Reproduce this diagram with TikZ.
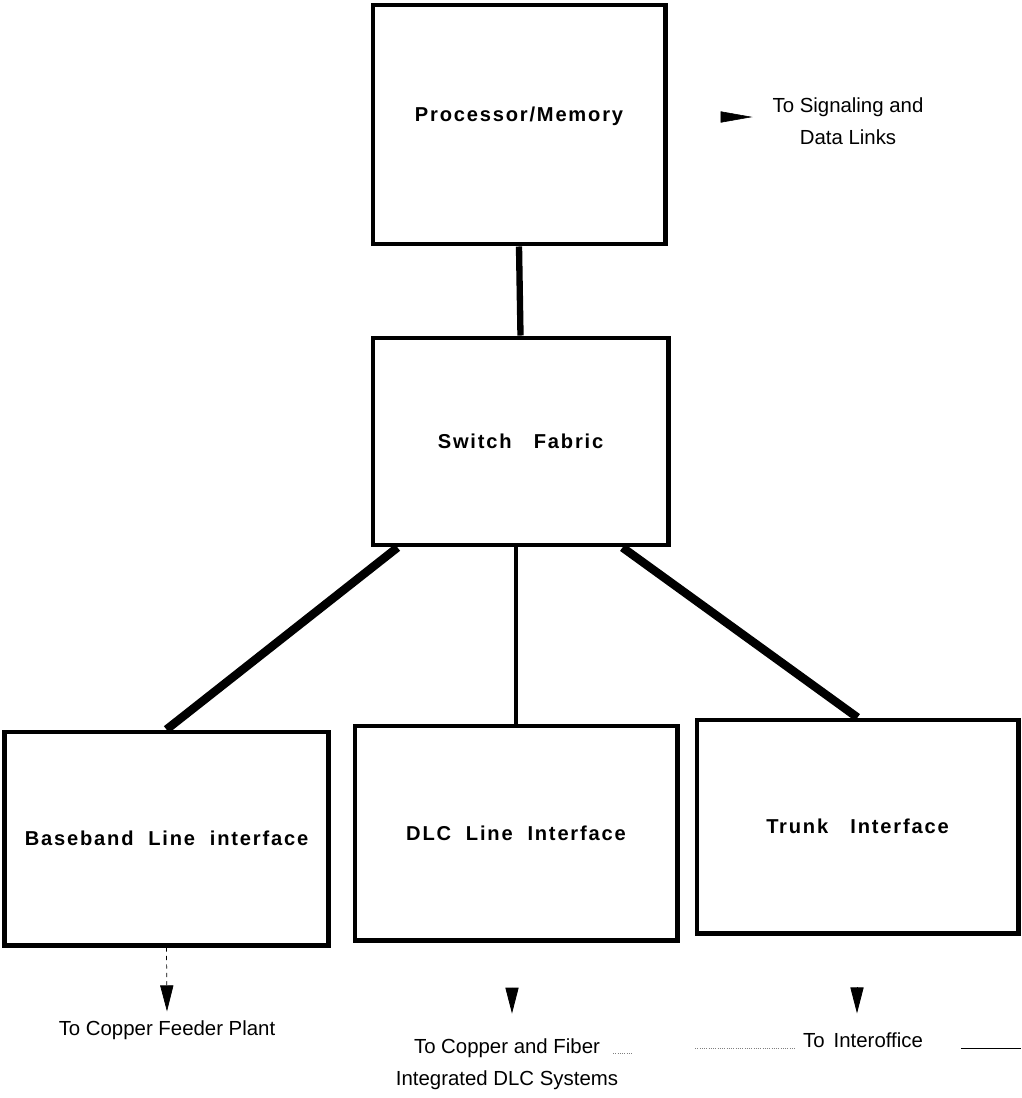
\documentclass[tikz,border=0pt]{standalone}
\usepackage{fontspec}
\setmainfont{Liberation Sans}
\newfontfamily\blockfont{Liberation Sans}[LetterSpace=9]
\usepackage{tikz}
\usetikzlibrary{arrows.meta,calc}

\begin{document}
\begin{tikzpicture}[
    x=0.025cm, y=-0.025cm,
    every node/.style={font=\fontsize{14.5}{22.5}\selectfont},
    block/.style={draw, line width=3.5pt, rectangle, align=center, font=\blockfont\bfseries\fontsize{14.3}{17}\selectfont},
    note/.style={align=center, inner sep=2pt},
    link/.style={line width=6pt},
    tip/.style={-{Triangle[length=0.65cm, width=0.33cm]}, line width=0.6pt}
]
\useasboundingbox (0,0) rectangle (1021,1098);

% Blocks
\node (proc) [block, minimum width=7.3cm, minimum height=5.975cm] at (519,124.5) {\raisebox{0.5cm}{Processor/Memory}};
\node (switch) [block, minimum width=7.375cm, minimum height=5.175cm] at (520.5,441.5) {\raisebox{-0.3cm}{Switch\ \ \ Fabric}};
\node (baseband) [block, minimum width=8.075cm, minimum height=5.325cm] at (166.5,838.5) {\raisebox{-0.25cm}{Baseband\ \ Line\ \ interface}};
\node (dlc) [block, minimum width=8.05cm, minimum height=5.35cm] at (516,833) {\raisebox{-0.1cm}{DLC\ \ Line\ \ Interface}};
\node (trunk) [block, minimum width=8.025cm, minimum height=5.325cm] at (857.5,826.5) {\raisebox{-0.2cm}{Trunk\ \ \ Interface}};

% External notes
\node (signal) [note] at (848,121) {To Signaling and\\Data Links};
\node (feeder) [note] at (167,1030) {To Copper Feeder Plant};
\node (fiber) [note] at (507,1064) {To Copper and Fiber\\Integrated DLC Systems};
\node (office) [note] at (863,1040) {To\ \,Interoffice};

% Connections
\draw [link, line width=4.5pt] (proc.south) -- (switch.north);
\draw [link] ($(switch.south west)+(27,0)$) -- (baseband.north);
\draw [link, line width=3.5pt] (dlc.north |- switch.south) -- (dlc.north);
\draw [link] ($(switch.south east)+(-48,0)$) -- (trunk.north);

% Outgoing arrows
\draw [-{Triangle[length=0.8cm, width=0.28cm]}, line width=0.4pt] ($(signal.west)+(-48,-4)$) -- ($(signal.west)+(-17,-4)$);
\draw [tip, dashed, line width=0.5pt] (baseband.south) -- ([yshift=0.15cm]feeder.north);
\draw [tip] ($(fiber.north)+(5,-48)$) -- ($(fiber.north)+(5,-22)$);
\draw [tip] ($(office.north)+(-6,-42)$) -- ($(office.north)+(-6,-16)$);

% Stray marks
\draw [densely dotted, gray, line width=0.6pt] ($(fiber.north east)+(-8,18)$) -- ++(20,0);
\draw [densely dotted, gray, line width=0.6pt] ($(office.west)+(-105,8)$) -- ++(100,0);
\draw [line width=0.6pt] ($(office.east)+(35,8)$) -- (1021,1048);
\end{tikzpicture}
\end{document}
